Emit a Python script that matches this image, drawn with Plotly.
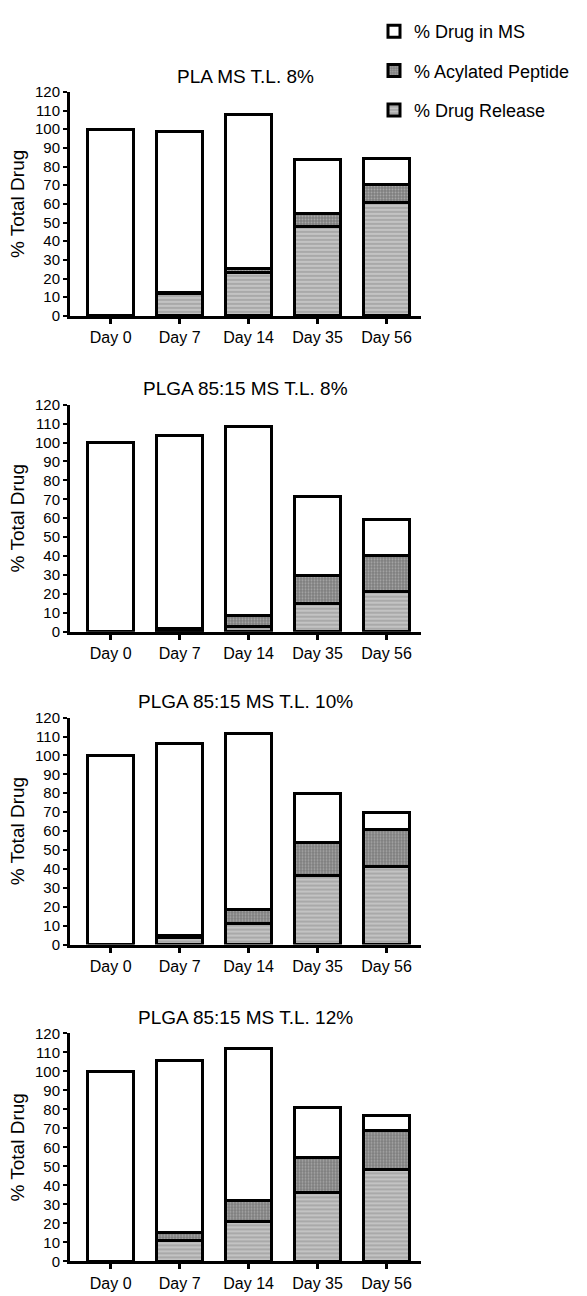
import plotly.graph_objects as go

days = ["Day 0", "Day 7", "Day 14", "Day 35", "Day 56"]
panel_titles = ["PLA MS T.L. 8%", "PLGA 85:15 MS T.L. 8%",
                "PLGA 85:15 MS T.L. 10%", "PLGA 85:15 MS T.L. 12%"]
series_names = ["% Drug Release", "% Acylated Peptide", "% Drug in MS"]
y_ticks = [0, 10, 20, 30, 40, 50, 60, 70, 80, 90, 100, 110, 120]

pla8_release = [0, 12, 23, 48, 60.5]
pla8_acyl = [0, 0.5, 2.5, 7, 10]
pla8_ms = [100, 86.5, 82.5, 29, 14]

plga8_release = [0, 0.5, 3, 15, 21.5]
plga8_acyl = [0, 1, 5.5, 14.5, 19]
plga8_ms = [100, 102, 100, 42, 19]

plga10_release = [0, 3.5, 11, 36.5, 41.5]
plga10_acyl = [0, 1.5, 7.5, 17.5, 19.5]
plga10_ms = [100, 101.5, 93, 26, 9]

plga12_release = [0, 11, 21, 36, 48.5]
plga12_acyl = [0, 4, 11, 18.5, 20.5]
plga12_ms = [100, 90.5, 80, 26.5, 8]

panels = [
    (pla8_release, pla8_acyl, pla8_ms),
    (plga8_release, plga8_acyl, plga8_ms),
    (plga10_release, plga10_acyl, plga10_ms),
    (plga12_release, plga12_acyl, plga12_ms),
]

W, H = 587, 1296
FONT = "Liberation Sans, Arial, sans-serif"
# pixel extents of each plot area (top, bottom)
plot_px = [(84, 311), (401, 631), (718, 948), (1038, 1269)]
x_px = (70, 421)

styles = [
    dict(pattern=dict(shape="-", bgcolor="#a9a9a9", fgcolor="#ffffff", size=4, solidity=0.3)),
    dict(pattern=dict(shape=".", bgcolor="#7d7d7d", fgcolor="#d4d4d4", size=3, solidity=0.35)),
    dict(color="#ffffff"),
]
ranks = [3, 2, 1]

fig = go.Figure()
layout = dict(
    width=W, height=H, margin=dict(l=0, r=0, t=0, b=0),
    paper_bgcolor="white", plot_bgcolor="white",
    barmode="stack", bargap=0.33,
    font=dict(family=FONT, color="black"),
    showlegend=True,
    legend=dict(x=374 / W, y=1 - 4 / H, xanchor="left", yanchor="top",
                font=dict(size=18, family=FONT), traceorder="grouped",
                tracegroupgap=13, itemwidth=30, bgcolor="rgba(0,0,0,0)"),
)
annotations = []

for i, (rel, acy, ms) in enumerate(panels):
    n = "" if i == 0 else str(i + 1)
    for j, (vals, name) in enumerate(zip((rel, acy, ms), series_names)):
        fig.add_trace(go.Bar(
            x=days, y=vals, name=name, xaxis="x" + n, yaxis="y" + n,
            legendgroup=name, showlegend=(i == 0), legendrank=ranks[j],
            marker=dict(line=dict(color="black", width=3), **styles[j]),
            hoverinfo="skip",
        ))
    top, bot = plot_px[i]
    layout["xaxis" + n] = dict(
        domain=[x_px[0] / W, x_px[1] / W], anchor="y" + n,
        type="category", range=[-0.59, 4.5],
        showline=True, linecolor="black", linewidth=3,
        ticks="outside", ticklen=5, tickwidth=3, tickcolor="black",
        tickfont=dict(size=16), showgrid=False, zeroline=False,
    )
    layout["yaxis" + n] = dict(
        domain=[(H - bot) / H, (H - top) / H], anchor="x" + n,
        range=[0, 120], tickvals=y_ticks,
        showline=True, linecolor="black", linewidth=3,
        ticks="outside", ticklen=4, tickwidth=2, tickcolor="black",
        tickfont=dict(size=15), showgrid=False, zeroline=False,
        title=dict(text="% Total Drug", font=dict(size=19), standoff=6),
    )
    annotations.append(dict(
        text=panel_titles[i], xref="paper", yref="paper",
        x=(x_px[0] + x_px[1]) / 2 / W, y=(H - (top - 16)) / H,
        xanchor="center", yanchor="middle", showarrow=False,
        font=dict(size=19, family=FONT),
    ))

layout["annotations"] = annotations
fig.update_layout(**layout)
fig.write_html("out.html")
